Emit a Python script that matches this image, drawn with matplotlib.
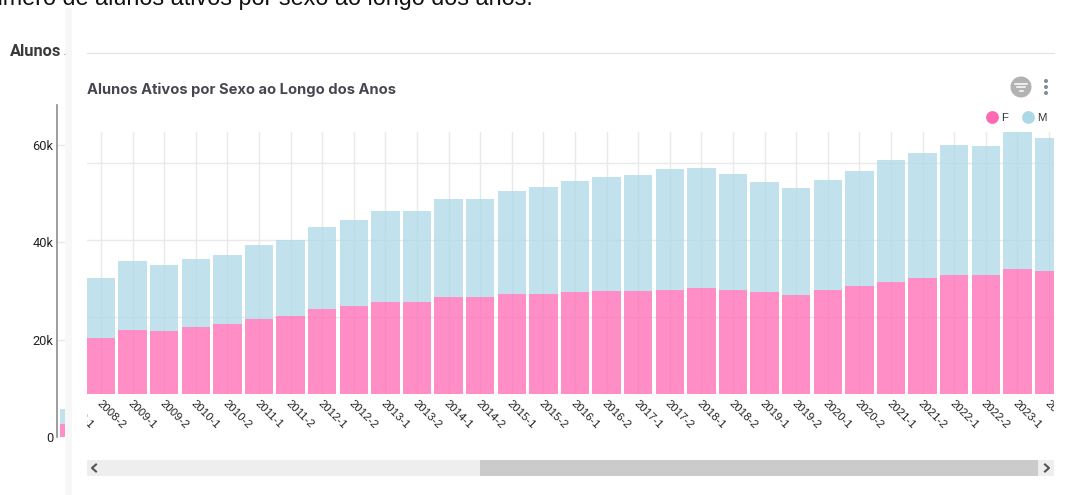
import numpy as np
import matplotlib
matplotlib.use('Agg')
import matplotlib.pyplot as plt
from matplotlib.lines import Line2D
from matplotlib.patches import Rectangle, Circle
from matplotlib.transforms import Bbox, TransformedBbox

W = 1070
H = 495

# semesters, 2008-1 only shows as a cut label at the left edge
periods = ['2008-1', '2008-2',
           '2009-1', '2009-2', '2010-1', '2010-2', '2011-1', '2011-2',
           '2012-1', '2012-2', '2013-1', '2013-2', '2014-1', '2014-2',
           '2015-1', '2015-2', '2016-1', '2016-2', '2017-1', '2017-2',
           '2018-1', '2018-2', '2019-1', '2019-2', '2020-1', '2020-2',
           '2021-1', '2021-2', '2022-1', '2022-2', '2023-1', '2023-2']

# thousands of students, read against the left axis (2008-2 onwards)
fem = [20.3, 21.9, 21.8, 22.7, 23.2, 24.2, 24.8, 26.2, 26.9, 27.7, 27.7,
       28.8, 28.8, 29.3, 29.4, 29.8, 30.0, 30.0, 30.3, 30.6, 30.2, 29.8,
       29.2, 30.2, 31.0, 31.9, 32.7, 33.3, 33.3, 34.5, 34.1]
masc = [12.3, 14.2, 13.5, 13.9, 14.1, 15.2, 15.7, 17.0, 17.7, 18.8, 18.7,
        20.0, 20.2, 21.3, 22.0, 22.9, 23.5, 23.9, 24.8, 24.6, 23.9, 22.5,
        21.9, 22.7, 23.7, 25.0, 25.7, 26.6, 26.5, 28.3, 27.3]

# piece of the overview bar that sticks out next to the frozen axis
over_fem = 2.7
over_masc = 3.1

axis_ticks = [0, 20, 40, 60]
axis_labels = ['0', '20k', '40k', '60k']
inner_grid = [24.7, 40.5, 56.3]

PINK = 'hotpink'
BLUE = 'lightblue'

plt.rcParams['font.family'] = ['Liberation Sans', 'DejaVu Sans']

fig = plt.figure(figsize=(W / 100, H / 100), dpi=100)


def px_axes(x0, y0, x1, y1, **kw):
    # axes from pixel box, y counted from the top
    return fig.add_axes([x0 / W, 1 - y1 / H, (x1 - x0) / W, (y1 - y0) / H], **kw)


# overlay for the page furniture
deco = px_axes(0, 0, W, H, zorder=0)
deco.set_xlim(0, W)
deco.set_ylim(H, 0)
deco.axis('off')
deco.add_patch(Rectangle((65, 8), 7, H - 8, fc='#f7f7f7', ec='none'))
deco.plot([87, 1054], [53, 53], color='#e6e6e6', lw=1)

# scrollbar
deco.add_patch(Rectangle((87, 460), 967, 16, fc='#eeeeee', ec='none'))
deco.add_patch(Rectangle((480, 460), 558, 16, fc='#cbcbcb', ec='none'))
deco.plot([96, 92, 96], [464.5, 468, 471.5], color='#555555', lw=1.5)
deco.plot([1045, 1049, 1045], [464.5, 468, 471.5], color='#555555', lw=1.5)

# filter button and menu dots
deco.add_patch(Circle((1021, 87), 10.5, fc='#b2b2b2', ec='none'))
for yy, half in zip([83.5, 87, 90.5], [6, 4, 1.5]):
    deco.plot([1021 - half, 1021 + half], [yy, yy], color='white', lw=1.1)
for yy in [81, 87, 93]:
    deco.add_patch(Circle((1046, yy), 2, fc='#828c94', ec='none'))

deco.text(533, 4.5, 'Número de alunos ativos por sexo ao longo dos anos.', ha='right', va='baseline',
          fontsize=16.8, color='#111111')
deco.text(10, 51, 'Alunos', ha='left', va='center', family='Roboto', fontweight='bold',
          fontsize=11.8, color='#3a3a3a')
deco.text(63, 55, '.', ha='left', va='baseline', fontsize=9, color='#e08a3c')
deco.text(87, 90, 'Alunos Ativos por Sexo ao Longo dos Anos', ha='left', va='center',
          family='Inter', fontweight='bold', fontsize=10.6, color='#464650')

# frozen axis on the left
PX_PER_K = 4.867
left = px_axes(57, 105, 65, 437, zorder=2)
left.patch.set_alpha(0)
left.set_xlim(0, 1)
left.set_ylim(0, (437 - 105) / PX_PER_K)
left.bar(0.7, over_fem, 0.6, color=PINK, alpha=0.75)
left.bar(0.7, over_masc, 0.6, bottom=over_fem, color=BLUE, alpha=0.75)
left.set_xticks([])
left.set_yticks(axis_ticks)
left.set_yticklabels(axis_labels, family='Roboto', fontsize=9.2, color='#222222')
left.tick_params(axis='y', length=0, pad=2.5)
left.grid(axis='y', color='#e8e8e8', lw=1)
left.set_axisbelow(True)
for s in ['top', 'right', 'bottom']:
    left.spines[s].set_visible(False)
left.spines['left'].set_color('#8c8c8c')
left.spines['left'].set_linewidth(1.2)

# main scrolled plot
ax = px_axes(87, 132, 1054, 394, zorder=1)
ax.patch.set_alpha(0)
PITCH = 31.6
x = np.arange(len(fem))

fem = np.array(fem)
masc = np.array(masc)
ax.bar(x, fem, 0.9, color=PINK, alpha=0.75, zorder=2)
ax.bar(x, masc, 0.9, bottom=fem, color=BLUE, alpha=0.75, zorder=2)

ax.set_yticks(inner_grid)
ax.set_yticklabels([])
ax.set_xticks(x)
ax.set_xticklabels([])
ax.set_xlim(-14 / PITCH, (1054 - 101) / PITCH)
ax.set_ylim((437 - 394) / PX_PER_K, (437 - 132) / PX_PER_K)
ax.tick_params(length=0)
ax.grid(True, color='#e9e9e9', lw=1, zorder=0)
ax.set_axisbelow(True)
for s in ax.spines.values():
    s.set_visible(False)

# tick labels by hand: 2008-1 is off-screen and they get cut at the plot
# sides like the scrolled original
clip = TransformedBbox(Bbox([[0, -1], [1, 1]]), ax.transAxes)
for i, name in enumerate(periods):
    lab = ax.annotate(name, xy=(i - 1, 0), xycoords=('data', 'axes fraction'), xytext=(0.5, -3),
                      textcoords='offset points', rotation=-45, ha='left', va='top',
                      rotation_mode='anchor', fontsize=8.2, color='#222222', annotation_clip=False)
    lab.set_clip_on(True)
    lab.set_clip_box(clip)

handles = [Line2D([], [], ls='', marker='o', ms=8.2, color=PINK, label='F'),
           Line2D([], [], ls='', marker='o', ms=8.2, color=BLUE, label='M')]
fig.legend(handles=handles, loc='center right', bbox_to_anchor=(1046 / W, 1 - 118 / H), ncol=2,
           frameon=False, fontsize=8.2, handletextpad=-0.2, columnspacing=0.75, borderpad=0,
           borderaxespad=0, labelcolor='#333333')

fig.savefig('out.png', dpi=100)
